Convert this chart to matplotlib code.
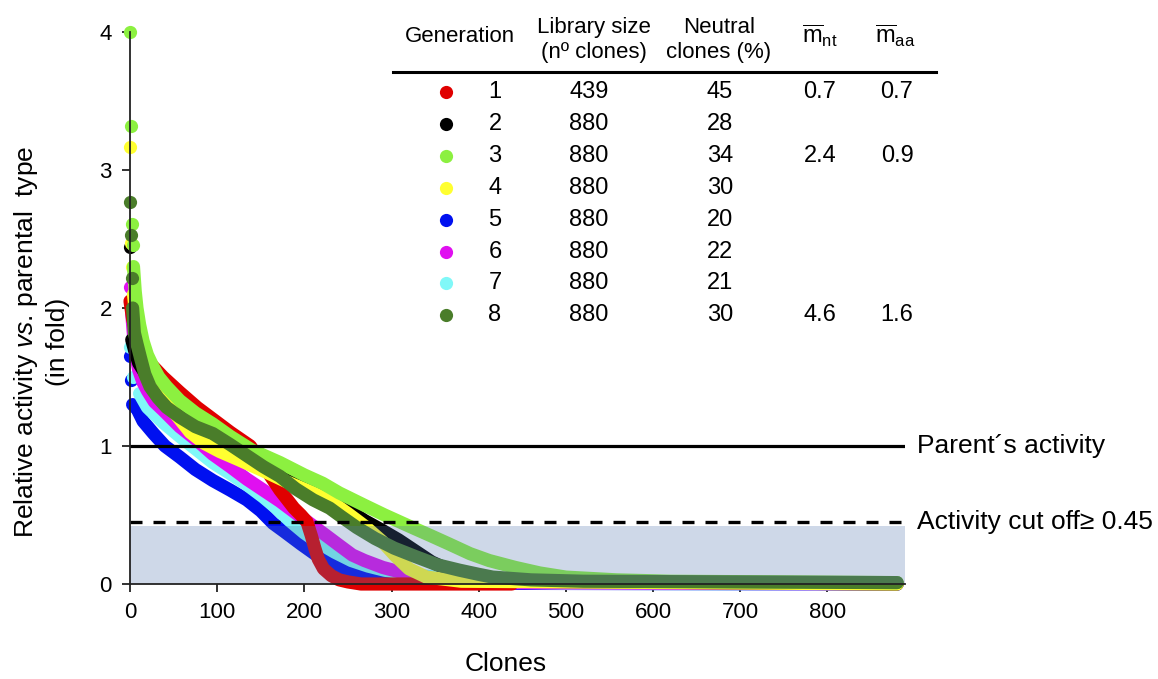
import matplotlib
matplotlib.use("Agg")
import matplotlib.pyplot as plt

plt.rcParams["font.family"] = ["Liberation Sans", "DejaVu Sans"]
plt.rcParams["mathtext.fontset"] = "custom"
plt.rcParams["mathtext.rm"] = "Liberation Sans"
plt.rcParams["mathtext.it"] = "Liberation Sans:italic"

# datos: actividad relativa ordenada por clon
generaciones = ["1", "2", "3", "4", "5", "6", "7", "8"]
colores = ["#E00000", "#000000", "#8CF040", "#FFFF30",
           "#0010F0", "#E010F0", "#80F8F8", "#4A7D2A"]
tam_libreria = ["439", "880", "880", "880", "880", "880", "880", "880"]
neutros = ["45", "28", "34", "30", "20", "22", "21", "30"]
m_nt = ["0.7", "", "2.4", "", "", "", "", "4.6"]
m_aa = ["0.7", "", "0.9", "", "", "", "", "1.6"]

# puntos sueltos al principio de cada curva
top_x = {
    "1": [], "2": [0], "3": [0, 1, 2, 3], "4": [0, 1, 2],
    "5": [0, 1], "6": [0, 1], "7": [0, 4], "8": [0, 1, 2],
}
top_y = {
    "1": [], "2": [2.44], "3": [4.0, 3.32, 2.61, 2.46], "4": [3.17, 2.47, 2.3],
    "5": [1.65, 1.48], "6": [2.15, 2.06], "7": [1.72, 1.5], "8": [2.77, 2.53, 2.22],
}

clones = {
    "1": [0, 3, 8, 15, 23, 38, 57, 77, 96, 115, 138, 155, 172, 188, 196, 203, 208, 212,
          216, 222, 231, 240, 250, 265, 300, 438],
    "2": [2, 5, 10, 15, 20, 30, 40, 55, 70, 85, 100, 130, 160, 193, 212, 231, 250, 269,
          289, 308, 327, 346, 370, 400, 450, 880],
    "3": [4, 6, 8, 11, 15, 20, 26, 33, 42, 57, 75, 95, 115, 140, 172, 200, 221, 240, 269,
          292, 320, 345, 366, 390, 412, 442, 470, 500, 558, 620, 880],
    "4": [4, 6, 8, 11, 15, 20, 25, 35, 50, 69, 85, 103, 125, 153, 180, 210, 230, 250,
          269, 289, 305, 320, 340, 380, 880],
    "5": [3, 8, 15, 27, 40, 57, 75, 95, 115, 134, 150, 164, 177, 196, 216, 235, 254, 280,
          312, 400, 880],
    "6": [2, 4, 6, 10, 15, 20, 28, 38, 57, 77, 95, 115, 134, 153, 172, 191, 206, 221,
          240, 255, 269, 290, 308, 346, 400, 880],
    "7": [11, 20, 38, 57, 77, 95, 115, 134, 153, 168, 183, 200, 216, 235, 254, 273, 292,
          320, 350, 390, 427, 500, 880],
    "8": [3, 5, 8, 12, 17, 23, 32, 42, 57, 75, 95, 115, 134, 153, 172, 190, 210, 229,
          242, 260, 281, 303, 327, 352, 378, 400, 416, 460, 520, 880],
}
actividad = {
    "1": [2.05, 1.92, 1.8, 1.68, 1.6, 1.5, 1.39, 1.28, 1.19, 1.1, 1.0, 0.84, 0.68, 0.55,
          0.5, 0.45, 0.35, 0.26, 0.18, 0.11, 0.06, 0.03, 0.015, 0.0, 0.0, 0.0],
    "2": [1.77, 1.7, 1.6, 1.55, 1.5, 1.42, 1.35, 1.26, 1.18, 1.11, 1.04, 0.94, 0.84,
          0.72, 0.66, 0.61, 0.54, 0.46, 0.39, 0.32, 0.24, 0.16, 0.09, 0.04, 0.02, 0.0],
    "3": [2.3, 2.12, 2.0, 1.88, 1.76, 1.66, 1.58, 1.5, 1.43, 1.33, 1.24, 1.16, 1.07,
          0.97, 0.88, 0.79, 0.73, 0.66, 0.57, 0.5, 0.42, 0.35, 0.29, 0.22, 0.17, 0.12,
          0.08, 0.05, 0.03, 0.02, 0.01],
    "4": [2.1, 1.98, 1.9, 1.8, 1.7, 1.6, 1.52, 1.4, 1.25, 1.1, 1.02, 0.96, 0.9, 0.82,
          0.74, 0.66, 0.6, 0.51, 0.42, 0.31, 0.2, 0.11, 0.05, 0.02, 0.0],
    "5": [1.3, 1.27, 1.18, 1.09, 1.0, 0.92, 0.83, 0.75, 0.68, 0.61, 0.53, 0.44, 0.38,
          0.29, 0.2, 0.13, 0.08, 0.04, 0.02, 0.005, 0.0],
    "6": [1.96, 1.8, 1.68, 1.55, 1.46, 1.4, 1.32, 1.26, 1.14, 1.04, 0.94, 0.85, 0.76,
          0.68, 0.6, 0.51, 0.44, 0.37, 0.28, 0.21, 0.17, 0.12, 0.09, 0.04, 0.01, 0.0],
    "7": [1.38, 1.28, 1.17, 1.07, 0.97, 0.88, 0.8, 0.72, 0.63, 0.55, 0.46, 0.37, 0.3,
          0.23, 0.17, 0.13, 0.1, 0.07, 0.05, 0.03, 0.015, 0.005, 0.0],
    "8": [2.0, 1.82, 1.74, 1.64, 1.52, 1.43, 1.35, 1.28, 1.21, 1.14, 1.09, 1.01, 0.93,
          0.85, 0.78, 0.69, 0.61, 0.55, 0.49, 0.41, 0.33, 0.26, 0.2, 0.14, 0.1, 0.07,
          0.05, 0.03, 0.02, 0.01],
}
orden = ["5", "7", "6", "1", "2", "4", "3", "8"]

W, H = 1158, 679


def fx(px):
    return px / W


def fy(py):
    return 1 - py / H


fig = plt.figure(figsize=(11.58, 6.79), dpi=100)
ax = fig.add_axes([fx(130), fy(584), fx(905) - fx(130), fy(32) - fy(584)])

for z, g in enumerate(orden):
    c = colores[generaciones.index(g)]
    ax.plot(clones[g], actividad[g], color=c, lw=9.5, solid_capstyle="round",
            solid_joinstyle="round", zorder=2 + z, clip_on=False)
    if top_x[g]:
        ax.plot(top_x[g], top_y[g], "o", color=c, ms=9.5, mec="none",
                zorder=2 + z, clip_on=False)

# zona sombreada y lineas de referencia
ax.fill_between([0, 889], 0, 0.42, color="#5074AD", alpha=0.28, lw=0, zorder=20)
ax.plot([0, 889], [1, 1], color="black", lw=2.3, zorder=21)
ax.plot([0, 889], [0.45, 0.45], color="black", lw=2.4, dashes=(3.6, 3.3), zorder=21)

ax.set_xlim(0, 889)
ax.set_ylim(0, 4)
ax.set_xticks(range(0, 900, 100))
ax.set_yticks([0, 1, 2, 3, 4])
ax.spines["top"].set_visible(False)
ax.spines["right"].set_visible(False)
for s in ["left", "bottom"]:
    ax.spines[s].set_color("#222222")
    ax.spines[s].set_linewidth(1.3)
    ax.spines[s].set_zorder(22)
ax.tick_params(direction="out", length=6, width=1.3, color="#222222",
               labelsize=16, pad=7)

fig.text(fx(41), fy(342), "Relative activity $\\it{vs}$. parental  type\n(in fold)",
         rotation=90, ha="center", va="center", multialignment="center",
         fontsize=19, linespacing=1.35)
fig.text(fx(506), fy(664), "Clones", ha="center", va="center", fontsize=19)

fig.text(fx(917), fy(446), "Parent\u00b4s activity", ha="left", va="center", fontsize=19)
fig.text(fx(917), fy(522), "Activity cut off\u2265 0.45", ha="left", va="center", fontsize=19)

# tabla
fs_h = 16
fig.text(fx(460), fy(36), "Generation", ha="center", va="center", fontsize=fs_h)
fig.text(fx(594), fy(40), "Library size\n(n\u00ba clones)", ha="center", va="center",
         fontsize=fs_h, linespacing=1.2)
fig.text(fx(719), fy(40), "Neutral\nclones (%)", ha="center", va="center",
         fontsize=fs_h, linespacing=1.2)
fig.text(fx(820), fy(36), r"$\overline{\mathrm{m}}_{\mathrm{nt}}$", ha="center",
         va="center", fontsize=17)
fig.text(fx(895), fy(36), r"$\overline{\mathrm{m}}_{\mathrm{aa}}$", ha="center",
         va="center", fontsize=17)
fig.add_artist(plt.Line2D([fx(393), fx(936)], [fy(72), fy(72)], color="black", lw=2.2))

fs_r = 17
for i, g in enumerate(generaciones):
    y = fy(92 + i * 31.9)
    fig.add_artist(plt.Line2D([fx(446)], [y], marker="o", ms=9.5, color=colores[i],
                              mec="none", ls="none"))
    fig.text(fx(495), y, g, ha="center", va="center", fontsize=fs_r)
    fig.text(fx(589), y, tam_libreria[i], ha="center", va="center", fontsize=fs_r)
    fig.text(fx(720), y, neutros[i], ha="center", va="center", fontsize=fs_r)
    fig.text(fx(820), y, m_nt[i], ha="center", va="center", fontsize=fs_r)
    fig.text(fx(897), y, m_aa[i], ha="center", va="center", fontsize=fs_r)

fig.savefig("out.png", dpi=100)
